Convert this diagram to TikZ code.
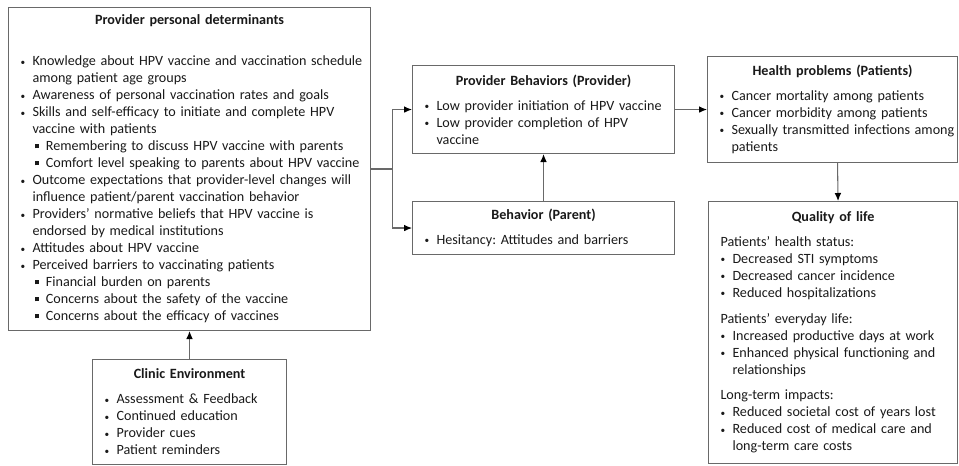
\documentclass[tikz,border=0pt]{standalone}
\usepackage{fontspec}
\setmainfont{Carlito}
\usetikzlibrary{positioning,arrows.meta}
\definecolor{edgegray}{RGB}{105,105,105}
\frenchspacing

% bullet list helpers for the boxes
\newcommand{\ttl}[1]{{\centering\bfseries #1\par}}
\newcommand{\hdr}[1]{\par\noindent\hangindent=9pt\hangafter=1\hspace*{9pt}#1\par}
\newcommand{\itm}[1]{\par\noindent\hangindent=18pt\hangafter=1%
  \makebox[18pt][l]{\hspace{9pt}\raisebox{0.6pt}{\scriptsize\textbullet}}#1\par}
\newcommand{\sitm}[1]{\par\noindent\hangindent=28pt\hangafter=1%
  \makebox[28pt][l]{\hspace{19.5pt}\raisebox{1.8pt}{\rule{3.2pt}{3.2pt}}}#1\par}

\tikzset{
box/.style={draw=edgegray, line width=0.8pt, rectangle, anchor=north west,
    inner xsep=0pt, inner ysep=0pt, align=left, text=black!90,
    font=\fontsize{10.6pt}{12.75pt}\selectfont},
link/.style={draw=edgegray, line width=0.8pt,
    -{Latex[length=6pt,width=5pt,color=black]}}
}

\begin{document}
\begin{tikzpicture}[x=0.75pt,y=-0.75pt]
\useasboundingbox (0,0) rectangle (959,466);

\node[box, text width=271.5pt, minimum height=242.25pt] (ppd) at (8,7) {%
\ttl{Provider personal determinants}\vspace{18pt}
\itm{\mbox{Knowledge about HPV vaccine and vaccination schedule}\newline among patient age groups}
\itm{Awareness of personal vaccination rates and goals}
\itm{\mbox{Skills and self-efficacy to initiate and complete HPV}\newline vaccine with patients}
\sitm{\mbox{Remembering to discuss HPV vaccine with parents}}
\sitm{\mbox{Comfort level speaking to parents about HPV vaccine}}
\itm{\mbox{Outcome expectations that provider-level changes will}\newline influence patient/parent vaccination behavior}
\itm{\mbox{Providers' normative beliefs that HPV vaccine is}\newline endorsed by medical institutions}
\itm{Attitudes about HPV vaccine}
\itm{Perceived barriers to vaccinating patients}
\sitm{Financial burden on parents}
\sitm{Concerns about the safety of the vaccine}
\sitm{Concerns about the efficacy of vaccines}};

\node[box, text width=145.5pt, minimum height=78.75pt] (clinic) at (92,359) {%
\ttl{Clinic Environment}\vspace{6pt}
\itm{Assessment \& Feedback}
\itm{Continued education}
\itm{Provider cues}
\itm{Patient reminders}};

\node[box, text width=196.5pt, minimum height=66pt] (provbeh) at (412,65) {%
\ttl{Provider Behaviors (Provider)}\vspace{6pt}
\itm{\mbox{Low provider initiation of HPV vaccine}}
\itm{Low provider completion of HPV\newline vaccine}};

\node[box, text width=196.5pt, minimum height=39.75pt] (parent) at (412,201) {%
\ttl{Behavior (Parent)}\vspace{6pt}
\itm{Hesitancy: Attitudes and barriers}};

\node[box, text width=187.5pt, minimum height=79.5pt] (health) at (707,56) {%
\ttl{Health problems (Patients)}\vspace{6pt}
\itm{Cancer mortality among patients}
\itm{Cancer morbidity among patients}
\itm{\mbox{Sexually transmitted infections among}\newline patients}};

\node[box, text width=186.75pt, minimum height=196.5pt] (quality) at (708,201) {%
\ttl{Quality of life}\vspace{6pt}
\hdr{Patients' health status:}
\itm{Decreased STI symptoms}
\itm{Decreased cancer incidence}
\itm{Reduced hospitalizations}
\vspace{6.5pt}
\hdr{Patients' everyday life:}
\itm{Increased productive days at work}
\itm{\mbox{Enhanced physical functioning and}\newline relationships}
\vspace{6.5pt}
\hdr{Long-term impacts:}
\itm{Reduced societal cost of years lost}
\itm{\mbox{Reduced cost of medical care and}\newline long-term care costs}};

% connectors
\draw[link] (clinic) -- (ppd);
\draw[link] (ppd.east) -- ++(21,0) |- (provbeh.west);
\draw[link] (ppd.east) -- ++(21,0) |- (parent.west);
\draw[link] (parent) -- (provbeh);
\draw[link] (provbeh) -- (health);
\draw[link] ([xshift=3.75pt]health.south) -- ([xshift=3.75pt]quality.north);
\end{tikzpicture}
\end{document}
